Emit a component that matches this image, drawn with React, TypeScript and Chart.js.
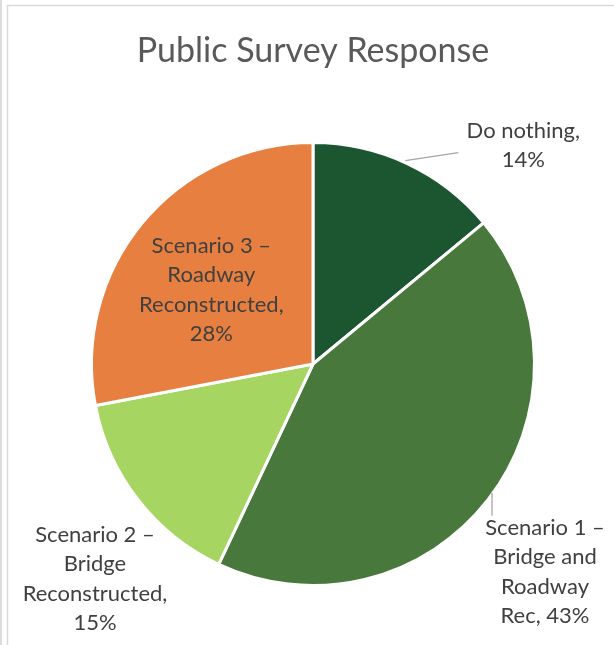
import React, { useEffect, useRef } from "react";
import { Chart, registerables } from "chart.js";

Chart.register(...registerables);

const categories = [
  "Do nothing",
  "Scenario 1 – Bridge and Roadway Rec",
  "Scenario 2 – Bridge Reconstructed",
  "Scenario 3 – Roadway Reconstructed",
];
const shares = [14, 43, 15, 28];
const labelLines = [
  ["Do nothing,", "14%"],
  ["Scenario 1 –", "Bridge and", "Roadway", "Rec, 43%"],
  ["Scenario 2 –", "Bridge", "Reconstructed,", "15%"],
  ["Scenario 3 –", "Roadway", "Reconstructed,", "28%"],
];
const colors = ["#1B5631", "#48783B", "#A6D562", "#E67F40"];
const titleText = "Public Survey Response";

// label placement relative to the slice's outer-edge midpoint (style only)
const labelPlacement = [
  { dx: 116, dy: -18, leader: [[-2, -3], [51, -11]] },
  { dx: 57, dy: 72, leader: [[4, -7], [4, 16]] },
  { dx: -43, dy: 79, leader: null },
  { dx: 69, dy: 67, leader: null },
];

const FONT = "Lato, 'Open Sans', sans-serif";

const decorPlugin = {
  id: "decor",
  beforeDraw(chart: any) {
    const ctx = chart.ctx;
    ctx.save();
    ctx.fillStyle = "#ffffff";
    ctx.fillRect(0, 0, chart.width, chart.height);
    ctx.fillStyle = "#dcdcdc";
    ctx.fillRect(0, 0, 2, chart.height);
    ctx.strokeStyle = "#d9d9d9";
    ctx.lineWidth = 1.5;
    ctx.beginPath();
    ctx.moveTo(7.5, chart.height);
    ctx.lineTo(7.5, 5.5);
    ctx.lineTo(chart.width, 5.5);
    ctx.stroke();
    ctx.restore();
  },
  afterDraw(chart: any) {
    const ctx = chart.ctx;
    ctx.save();
    // title
    ctx.fillStyle = "#595959";
    ctx.font = `34px ${FONT}`;
    ctx.textAlign = "center";
    ctx.textBaseline = "alphabetic";
    ctx.fillText(titleText, 313, 62);

    const meta = chart.getDatasetMeta(0);
    meta.data.forEach((arc: any, i: number) => {
      const p = arc.getProps(["x", "y", "startAngle", "endAngle", "outerRadius"], true);
      const mid = (p.startAngle + p.endAngle) / 2;
      const ex = p.x + p.outerRadius * Math.cos(mid);
      const ey = p.y + p.outerRadius * Math.sin(mid);
      const pl = labelPlacement[i];
      if (pl.leader) {
        ctx.strokeStyle = "#a6a6a6";
        ctx.lineWidth = 1.3;
        ctx.beginPath();
        ctx.moveTo(ex + pl.leader[0][0], ey + pl.leader[0][1]);
        ctx.lineTo(ex + pl.leader[1][0], ey + pl.leader[1][1]);
        ctx.stroke();
      }
      const lines = labelLines[i];
      const lh = 29.5;
      const cx = ex + pl.dx;
      const cy = ey + pl.dy;
      ctx.fillStyle = "#404040";
      ctx.font = `22px ${FONT}`;
      ctx.textAlign = "center";
      ctx.textBaseline = "middle";
      lines.forEach((t, k) => {
        ctx.fillText(t, cx, cy + (k - (lines.length - 1) / 2) * lh);
      });
    });
    ctx.restore();
  },
};

export default function App() {
  const ref = useRef<HTMLCanvasElement>(null);
  useEffect(() => {
    document.body.style.margin = "0";
    const chart = new Chart(ref.current!, {
      type: "pie",
      data: {
        labels: categories,
        datasets: [
          {
            data: shares,
            backgroundColor: colors,
            borderColor: "#ffffff",
            borderWidth: 3,
          },
        ],
      },
      options: {
        responsive: false,
        animation: false,
        layout: { padding: { left: 90, right: 78, top: 141, bottom: 58 } },
        plugins: {
          legend: { display: false },
          title: { display: false },
          tooltip: { enabled: false },
        },
      },
      plugins: [decorPlugin],
    });
    return () => chart.destroy();
  }, []);
  return <canvas ref={ref} width={614} height={645} style={{ display: "block" }} />;
}
